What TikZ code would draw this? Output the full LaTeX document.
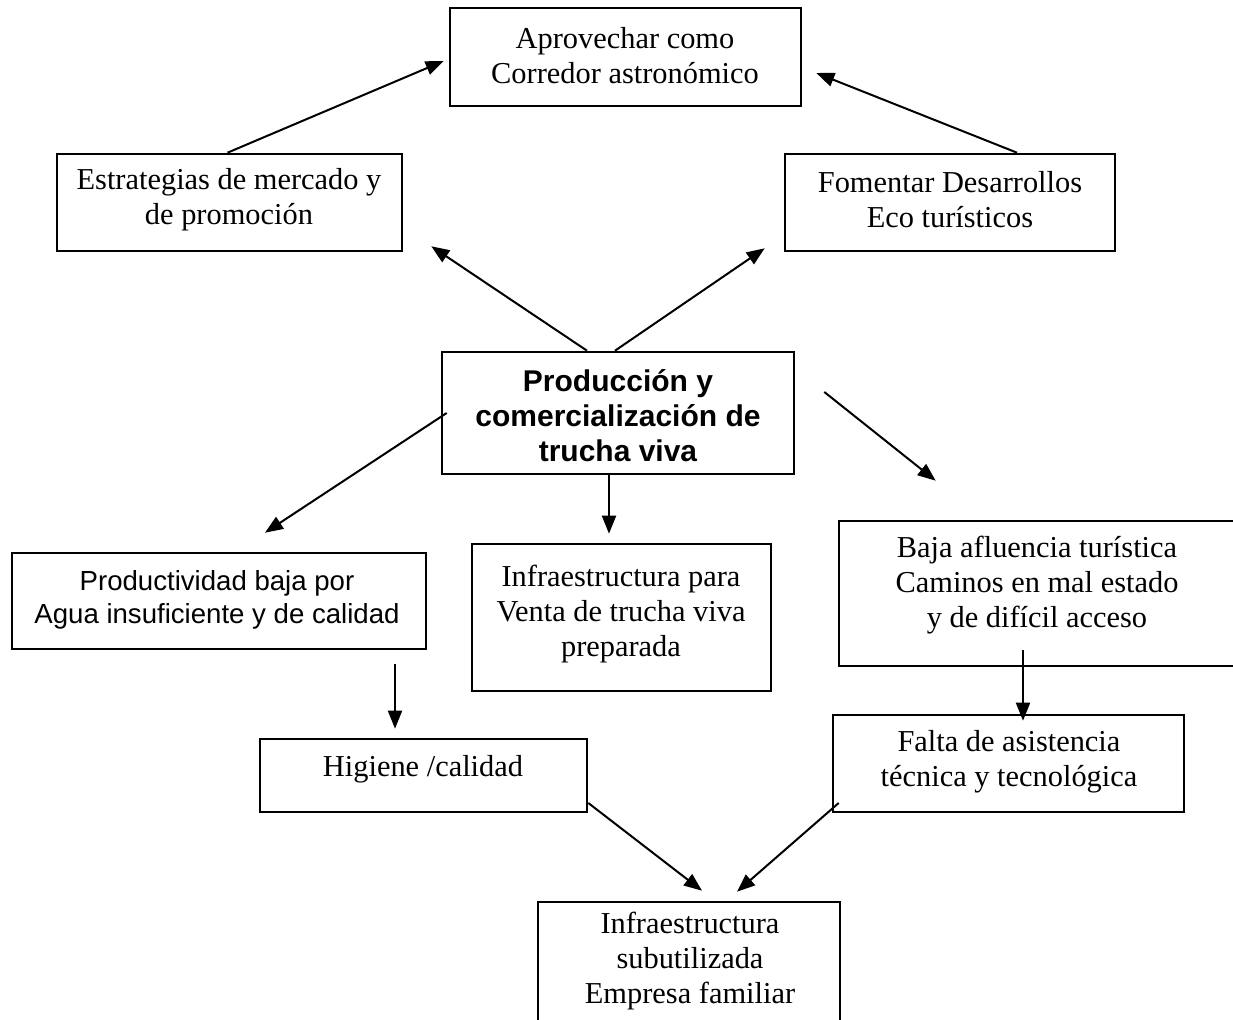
\documentclass[tikz,border=0pt]{standalone}
\usepackage{fontspec}
\setmainfont{Liberation Serif}
\setsansfont{Liberation Sans}
\usetikzlibrary{arrows.meta,calc,fit}
\begin{document}
\begin{tikzpicture}[x=0.5pt,y=-0.5pt,
  box/.style={draw,line width=1.3pt,inner sep=0pt,rectangle},
  txt/.style={align=center,font=\fontsize{15.2pt}{17.5pt}\selectfont,inner sep=0pt},
  stxt/.style={align=center,font=\sffamily\fontsize{13.8pt}{16.5pt}\selectfont,inner sep=0pt},
  btxt/.style={align=center,font=\sffamily\bfseries\fontsize{15pt}{17.5pt}\selectfont,inner sep=0pt},
  arr/.style={-{Triangle[length=9pt,width=7pt]},line width=1pt}]
\useasboundingbox (0,0) rectangle (1233,1020);
\clip (0,0) rectangle (1233,1020);
\fill[white] (0,0) rectangle (1233,1020);

% boxes
\node[box,fit={(450,8)(801,106)}] (top) {};
\node[box,fit={(57,154)(402,251)}] (estr) {};
\node[box,fit={(785,154)(1115,251)}] (fom) {};
\node[box,fit={(442,352)(794,474)}] (center) {};
\node[box,fit={(12,553)(426,649)}] (prod) {};
\node[box,fit={(472,544)(771,691)}] (infra) {};
\node[box,fit={(839,521)(1280,666)}] (baja) {};
\node[box,fit={(260,739)(587,812)}] (higiene) {};
\node[box,fit={(833,715)(1184,812)}] (falta) {};
\node[box,fit={(538,902)(840,1060)}] (bottom) {};

% texts
\node[txt] (top-t) at (625,56) {Aprovechar como\\Corredor astronómico};
\node[txt] (estr-t) at (229,200) {Estrategias de mercado y\\de promoción};
\node[txt] (fom-t) at (950,200) {Fomentar Desarrollos\\Eco turísticos};
\node[btxt] (center-t) at (618,416) {Producción y\\comercialización de\\trucha viva};
\node[stxt] (prod-t) at (217,600) {Productividad baja por\\Agua insuficiente y de calidad};
\node[txt] (infra-t) at (621,614) {Infraestructura para\\Venta de trucha viva\\preparada};
\node[txt] (baja-t) at (1037,585) {Baja afluencia turística\\Caminos en mal estado\\y de difícil acceso};
\node[txt] (higiene-t) at (423,769) {Higiene /calidad};
\node[txt] (falta-t) at (1009,762) {Falta de asistencia\\técnica y tecnológica};
\node[txt] (bottom-t) at (690,961) {Infraestructura\\subutilizada\\Empresa familiar};

% connectors
\draw[arr] ($(estr.north)+(-2,0)$) -- ($(top.west)+(-5,4)$);
\draw[arr] ($(fom.north)+(67,0)$) -- ($(top.east)+(14,16)$);
\draw[arr] ($(center.north)+(-31,0)$) -- ($(estr.south east)+(28,-6)$);
\draw[arr] ($(center.north)+(-3,0)$) -- ($(fom.south west)+(-19,-4)$);
\draw[arr] ($(center.west)+(6,0)$) -- ($(prod.north)+(46,-19)$);
\draw[arr] ($(center.east)+(29,-21)$) -- ($(baja.north west)+(98,-39)$);
\draw[arr] ($(center.south)+(-9,0)$) -- ($(infra.north)+(-12.5,-9)$);
\draw[arr] ($(prod.south)+(176,14)$) -- ($(higiene.north)+(-28.5,-9)$);
\draw[arr] ($(baja.south)+(-36.5,-17)$) -- ($(falta.north)+(14.5,7)$);
\draw[arr] ($(higiene.east)+(0,27.5)$) -- ($(bottom.north)+(13,-10)$);
\draw[arr] ($(falta.west)+(7,39.5)$) -- ($(bottom.north)+(48,-9)$);
\end{tikzpicture}
\end{document}
